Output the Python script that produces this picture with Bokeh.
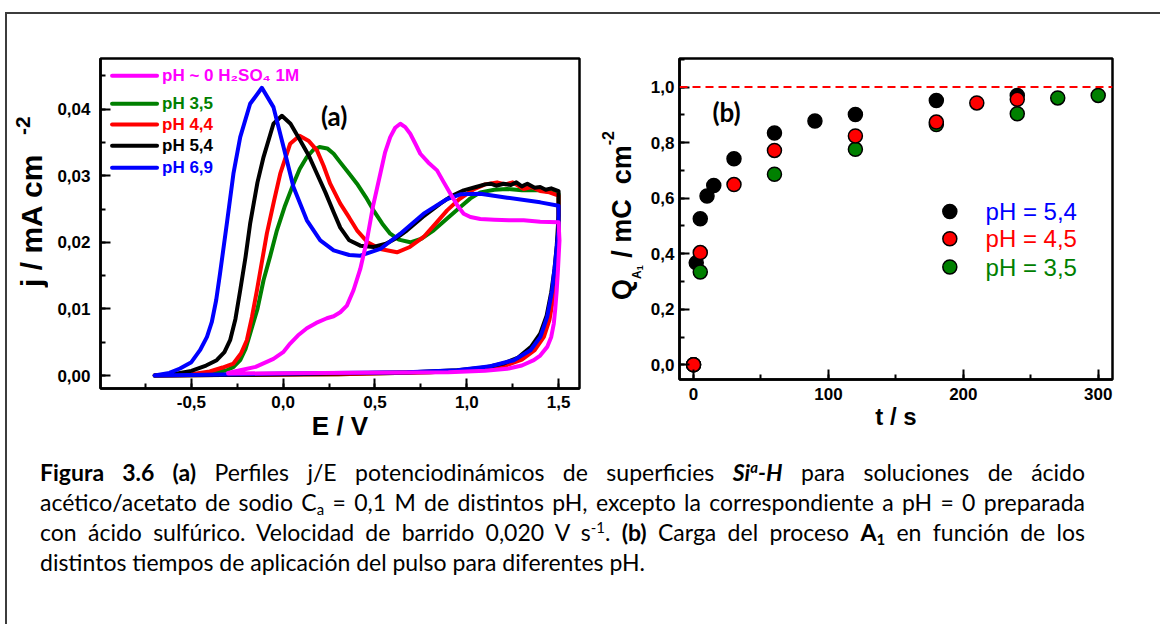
from bokeh.plotting import figure
from bokeh.models import Label, Span, SingleIntervalTicker, CustomJSTickFormatter, Div, Range1d
from bokeh.layouts import row, column
from bokeh.embed import file_html
from bokeh.resources import INLINE

# ---------------- data: panel (a) cyclic voltammograms ----------------
E_ph35 = [-0.70, -0.50, -0.40, -0.307, -0.27, -0.234, -0.205, -0.18, -0.14, -0.107, -0.07, -0.034,
          0.01, 0.056, 0.09, 0.129, 0.165, 0.198, 0.24, 0.275, 0.311, 0.36, 0.402, 0.45, 0.492,
          0.54, 0.583, 0.63, 0.692, 0.75, 0.82, 0.89, 0.965, 1.02, 1.074, 1.15, 1.22, 1.30, 1.40,
          1.45, 1.50,
          1.50, 1.494, 1.483, 1.467, 1.447, 1.415, 1.365, 1.295, 1.20, 1.05, 0.80, 0.30, -0.70]
j_ph35 = [0.0, 0.0001, 0.0003, 0.0008, 0.0013, 0.0023, 0.0040, 0.0063, 0.0100, 0.0143, 0.0180, 0.0218,
          0.0255, 0.0288, 0.0310, 0.0328, 0.0339, 0.0343, 0.0341, 0.0333, 0.0320, 0.0303, 0.0288,
          0.0268, 0.0248, 0.0228, 0.0213, 0.0204, 0.0200, 0.0205, 0.0218, 0.0235, 0.0253, 0.0266,
          0.0275, 0.0279, 0.0280, 0.0278, 0.0278, 0.0276, 0.0273,
          0.0230, 0.0190, 0.0152, 0.0117, 0.0085, 0.0059, 0.0039, 0.0025, 0.0015, 0.0009, 0.0005,
          0.0002, 0.0]

E_ph44 = [-0.70, -0.50, -0.40, -0.33, -0.271, -0.23, -0.198, -0.17, -0.143, -0.115, -0.089, -0.05,
          -0.016, 0.038, 0.089, 0.14, 0.184, 0.22, 0.256, 0.311, 0.36, 0.402, 0.46, 0.529, 0.62,
          0.69, 0.765, 0.83, 0.893, 0.96, 1.04, 1.10, 1.165, 1.21, 1.25, 1.31, 1.35, 1.40, 1.45, 1.50,
          1.50, 1.495, 1.485, 1.47, 1.45, 1.42, 1.37, 1.30, 1.20, 1.05, 0.80, 0.30, -0.70]
j_ph44 = [0.0, 0.0002, 0.0006, 0.0012, 0.0018, 0.0033, 0.0053, 0.0088, 0.0128, 0.0172, 0.0213, 0.0262,
          0.0303, 0.0348, 0.0360, 0.0352, 0.0338, 0.0315, 0.0288, 0.0258, 0.0237, 0.0218, 0.0200,
          0.0190, 0.0185, 0.0193, 0.0208, 0.0228, 0.0248, 0.0265, 0.0280, 0.0287, 0.0290, 0.0287,
          0.0290, 0.0280, 0.0283, 0.0277, 0.0275, 0.0270,
          0.0230, 0.0190, 0.0150, 0.0115, 0.0083, 0.0058, 0.0038, 0.0024, 0.0014, 0.0008, 0.0005,
          0.0002, 0.0]

E_ph54 = [-0.70, -0.60, -0.50, -0.42, -0.362, -0.32, -0.289, -0.26, -0.234, -0.205, -0.18, -0.14,
          -0.107, -0.053, -0.007, 0.04, 0.093, 0.14, 0.184, 0.23, 0.275, 0.311, 0.36, 0.42, 0.492,
          0.56, 0.62, 0.675, 0.76, 0.856, 0.92, 0.983, 1.05, 1.10, 1.13, 1.16, 1.20, 1.24, 1.27,
          1.30, 1.33, 1.37, 1.40, 1.43, 1.46, 1.50,
          1.50, 1.49, 1.478, 1.46, 1.435, 1.40, 1.35, 1.28, 1.20, 1.10, 0.95, 0.70, 0.30, -0.20, -0.70]
j_ph54 = [0.0, 0.0002, 0.0007, 0.0015, 0.0023, 0.0035, 0.0053, 0.0085, 0.0128, 0.0178, 0.0228, 0.0290,
          0.0328, 0.0378, 0.0390, 0.0378, 0.0353, 0.0330, 0.0303, 0.0275, 0.0245, 0.0222, 0.0203,
          0.0195, 0.0193, 0.0198, 0.0207, 0.0218, 0.0238, 0.0258, 0.0270, 0.0278, 0.0283, 0.0287,
          0.0288, 0.0285, 0.0288, 0.0286, 0.0290, 0.0284, 0.0288, 0.0282, 0.0283, 0.0279, 0.0281,
          0.0277,
          0.0240, 0.0195, 0.0160, 0.0125, 0.0090, 0.0063, 0.0043, 0.0027, 0.0018, 0.0012, 0.0008,
          0.0005, 0.0003, 0.0001, 0.0]

E_ph69 = [-0.70, -0.62, -0.562, -0.50, -0.453, -0.415, -0.389, -0.365, -0.344, -0.307, -0.271, -0.234,
          -0.18, -0.116, -0.053, 0.002, 0.056, 0.129, 0.202, 0.275, 0.311, 0.36, 0.42, 0.529, 0.638,
          0.765, 0.893, 0.965, 1.074, 1.22, 1.40, 1.50,
          1.50, 1.483, 1.465, 1.438, 1.401, 1.347, 1.256, 1.129, 0.947, 0.675, 0.0, -0.70]
j_ph69 = [0.0, 0.0004, 0.00105, 0.0020, 0.0038, 0.0058, 0.0080, 0.0113, 0.0153, 0.0228, 0.0303, 0.0358,
          0.0408, 0.0432, 0.0403, 0.0343, 0.0283, 0.0233, 0.0203, 0.0188, 0.0185, 0.0181, 0.0180,
          0.0190, 0.0213, 0.0243, 0.0265, 0.0272, 0.0273, 0.0267, 0.0260, 0.0255,
          0.0220, 0.0173, 0.0128, 0.0088, 0.0058, 0.0038, 0.0023, 0.0014, 0.0008, 0.0005, 0.0003, 0.0]

E_ph0 = [-0.30, -0.234, -0.15, -0.053, 0.0, 0.038, 0.08, 0.129, 0.18, 0.238, 0.275, 0.311, 0.347,
         0.383, 0.42, 0.456, 0.49, 0.529, 0.555, 0.583, 0.61, 0.638, 0.665, 0.692, 0.72, 0.747,
         0.79, 0.838, 0.875, 0.911, 0.95, 0.983, 1.02, 1.074, 1.15, 1.23, 1.31, 1.40, 1.50,
         1.505, 1.497, 1.49, 1.482, 1.474, 1.46, 1.438, 1.40, 1.365, 1.30, 1.22, 1.10, 0.90, 0.40, -0.30]
j_ph0 = [0.0004, 0.0008, 0.0013, 0.0025, 0.0035, 0.0048, 0.0060, 0.0071, 0.0079, 0.0086, 0.0089, 0.0095,
         0.0105, 0.0128, 0.0160, 0.0203, 0.0255, 0.0303, 0.0335, 0.0358, 0.0372, 0.0378, 0.0373,
         0.0363, 0.0348, 0.0333, 0.0320, 0.0308, 0.0290, 0.0273, 0.0255, 0.0243, 0.0238, 0.0235,
         0.0234, 0.0233, 0.0233, 0.0231, 0.0230,
         0.0203, 0.0160, 0.0128, 0.0100, 0.0078, 0.0058, 0.0043, 0.0030, 0.0023, 0.0015, 0.0010,
         0.0007, 0.0005, 0.0004, 0.0003]

legend_a_labels = ["pH ~ 0 H\u2082SO\u2084 1M", "pH 3,5", "pH 4,4", "pH 5,4", "pH 6,9"]

# ---------------- data: panel (b) charge vs pulse time ----------------
t_ph54 = [0, 2, 5, 10, 15, 30, 60, 90, 120, 180, 240]
q_ph54 = [0.0, 0.367, 0.526, 0.608, 0.646, 0.742, 0.835, 0.878, 0.901, 0.952, 0.970]
t_ph35 = [0, 5, 60, 120, 180, 240, 270, 300]
q_ph35 = [0.0, 0.334, 0.686, 0.776, 0.865, 0.904, 0.961, 0.970]
t_ph45 = [0, 5, 30, 60, 120, 180, 210, 240]
q_ph45 = [0.0, 0.404, 0.649, 0.772, 0.824, 0.874, 0.943, 0.956]
q_limit = 1.0
legend_b_labels = ["pH = 5,4", "pH = 4,5", "pH = 3,5"]

# ---------------- styling ----------------
MAGENTA, GREEN, RED, BLACK, BLUE = "#ff00ff", "#008000", "#ff0000", "#000000", "#0000ff"
FONT = "Liberation Sans"


def style(p, xint, yint, xdec, ydec, xstand, ystand):
    p.xgrid.visible = False
    p.ygrid.visible = False
    p.outline_line_color = "black"
    p.outline_line_width = 2.5
    p.background_fill_color = "white"
    p.border_fill_color = "white"
    p.xaxis.ticker = SingleIntervalTicker(interval=xint, num_minor_ticks=2)
    p.yaxis.ticker = SingleIntervalTicker(interval=yint, num_minor_ticks=2)
    p.xaxis.formatter = CustomJSTickFormatter(code="return tick.toFixed(%d).replace('.', ',')" % xdec)
    p.yaxis.formatter = CustomJSTickFormatter(code="return tick.toFixed(%d).replace('.', ',')" % ydec)
    for ax in (p.xaxis[0], p.yaxis[0]):
        ax.axis_line_width = 2.5
        ax.axis_line_color = "black"
        ax.major_tick_in = 10
        ax.major_tick_out = 0
        ax.minor_tick_in = 5
        ax.minor_tick_out = 0
        ax.major_tick_line_width = 2
        ax.minor_tick_line_width = 2
        ax.major_label_text_font = FONT
        ax.major_label_text_font_style = "bold"
        ax.major_label_text_font_size = "17px"
        ax.major_label_text_color = "black"
        ax.axis_label_text_font = FONT
        ax.axis_label_text_font_style = "bold"
        ax.axis_label_text_color = "black"
    p.xaxis.major_label_standoff = xstand
    p.yaxis.major_label_standoff = ystand


# ---------------- panel (a) ----------------
fa = figure(frame_width=479, frame_height=330, min_border_left=47, min_border_right=11,
            min_border_top=41, min_border_bottom=66, output_backend="svg", toolbar_location=None,
            x_range=Range1d(-0.995, 1.614), y_range=Range1d(-0.00195, 0.0476), margin=0)
style(fa, 0.5, 0.01, 1, 2, 7, 10)
fa.xaxis.axis_label = "E / V"
fa.xaxis.axis_label_text_font_size = "26px"
fa.xaxis.axis_label_standoff = 0

curves = [(E_ph35, j_ph35, GREEN), (E_ph44, j_ph44, RED), (E_ph54, j_ph54, BLACK),
          (E_ph69, j_ph69, BLUE), (E_ph0, j_ph0, MAGENTA)]
for E, J, c in curves:
    fa.line(E, J, line_color=c, line_width=4, line_join="round", line_cap="round")

# legend (a): manual swatches + coloured labels
leg_a_colors = [MAGENTA, GREEN, RED, BLACK, BLUE]
leg_a_j = [0.0450, 0.0408, 0.0377, 0.0345, 0.0312]
fa.segment(x0=[-0.932] * 5, x1=[-0.687] * 5, y0=leg_a_j, y1=leg_a_j,
           line_color=leg_a_colors, line_width=4, line_cap="round")
for lab, jj, c in zip(legend_a_labels, leg_a_j, leg_a_colors):
    fa.add_layout(Label(x=-0.66, y=jj, text=lab, text_color=c, text_font=FONT,
                        text_font_style="bold", text_font_size="17px", text_baseline="middle"))
fa.add_layout(Label(x=0.278, y=0.0390, text="(a)", text_font="Lato", text_font_style="bold",
                    text_font_size="26px", text_align="center", text_baseline="middle",
                    text_color="black"))

# ---------------- panel (b) ----------------
fb = figure(frame_width=433, frame_height=321, min_border_left=32, min_border_right=48,
            min_border_top=44, min_border_bottom=72, output_backend="svg", toolbar_location=None,
            x_range=Range1d(-10.4, 310.6), y_range=Range1d(-0.053, 1.103), margin=0)
style(fb, 100, 0.2, 0, 1, 8, 5)
fb.xaxis.axis_label = "t / s"
fb.xaxis.axis_label_text_font_size = "24px"
fb.xaxis.axis_label_standoff = 0

fb.add_layout(Span(location=q_limit, dimension="width", line_color=RED, line_width=2,
                   line_dash="8 5"))
for t, q, c in [(t_ph54, q_ph54, BLACK), (t_ph35, q_ph35, GREEN), (t_ph45, q_ph45, RED)]:
    fb.scatter(t, q, size=14, fill_color=c, line_color="black", line_width=1.5)

leg_b_q = [0.552, 0.454, 0.352]
leg_b_marker = [BLACK, RED, GREEN]
leg_b_text = [BLUE, RED, GREEN]
fb.scatter([190] * 3, leg_b_q, size=14, fill_color=leg_b_marker, line_color="black", line_width=1.5)
for lab, q, c in zip(legend_b_labels, leg_b_q, leg_b_text):
    fb.add_layout(Label(x=216.5, y=q, text=lab, text_color=c, text_font=FONT,
                        text_font_size="24px", text_baseline="middle"))
fb.add_layout(Label(x=24.5, y=0.909, text="(b)", text_font="Lato", text_font_style="bold",
                    text_font_size="26px", text_align="center", text_baseline="middle",
                    text_color="black"))

# ---------------- rotated y-axis titles as HTML (sub/superscripts) ----------------
VT = ("position:absolute;writing-mode:vertical-rl;transform:rotate(180deg);white-space:nowrap;"
      "font-family:'Liberation Sans',Arial,sans-serif;font-weight:bold;color:#000;")
ylab_a = Div(text=(
    '<div style="position:relative;width:46px;height:437px">'
    f'<div style="{VT}left:10px;bottom:164px;font-size:30px;line-height:30px">j / mA cm'
    '<span style="font-size:21px;line-height:0;vertical-align:9px;margin-inline-start:20px">-2</span>'
    '</div></div>'), width=46, height=437, margin=0)
ylab_b = Div(text=(
    '<div style="position:relative;width:57px;height:437px">'
    f'<div style="{VT}left:19px;bottom:151px;font-size:27px;line-height:27px">Q'
    '<span style="font-size:12px;line-height:0;vertical-align:-15px">A'
    '<span style="font-size:9px;line-height:0;vertical-align:-3px">1</span></span>'
    ' / mC&nbsp; cm'
    '<span style="font-size:16px;line-height:0;vertical-align:13px">-2</span>'
    '</div></div>'), width=57, height=437, margin=0)

# ---------------- frame lines and caption ----------------
LINE = "#3c3c3c"
left_div = Div(text='<div style="padding:12px 0 0 5px"><div style="width:2px;height:612px;background:%s"></div></div>' % LINE,
               width=7, height=624, margin=0)
top_div = Div(text='<div style="padding-top:12px"><div style="width:1153px;height:2px;background:%s"></div></div>' % LINE,
              width=1153, height=14, margin=0)

J = "text-align:justify;text-align-last:justify"
sup = 'style="font-size:0.65em;line-height:0;vertical-align:0.55em"'
sub = 'style="font-size:0.65em;line-height:0;vertical-align:-0.25em"'
caption_html = (
    '<div style="padding:6px 0 0 33px;width:1078px;font-family:Lato,sans-serif;font-size:23px;'
    'line-height:30px;color:#000">'
    f'<div style="{J}"><b>Figura 3.6 (a)</b> Perfiles j/E potenciodinámicos de superficies '
    f'<b><i>Si<span {sup}>a</span>-H</i></b> para soluciones de ácido</div>'
    f'<div style="{J}">acético/acetato de sodio C<span {sub}>a</span> = 0,1 M de distintos pH, '
    'excepto la correspondiente a pH = 0 preparada</div>'
    f'<div style="{J}">con ácido sulfúrico. Velocidad de barrido 0,020 V s<span {sup}>-1</span>. '
    f'<b>(b)</b> Carga del proceso <b>A<span {sub}>1</span></b> en función de los</div>'
    '<div>distintos tiempos de aplicación del pulso para diferentes pH.</div>'
    '</div>'
)
caption = Div(text=caption_html, width=1153, height=173, margin=0)

plots = row(ylab_a, fa, ylab_b, fb, spacing=0)
root = row(left_div, column(top_div, plots, caption, spacing=0), spacing=0)

open("out.html", "w").write(file_html(root, INLINE))
